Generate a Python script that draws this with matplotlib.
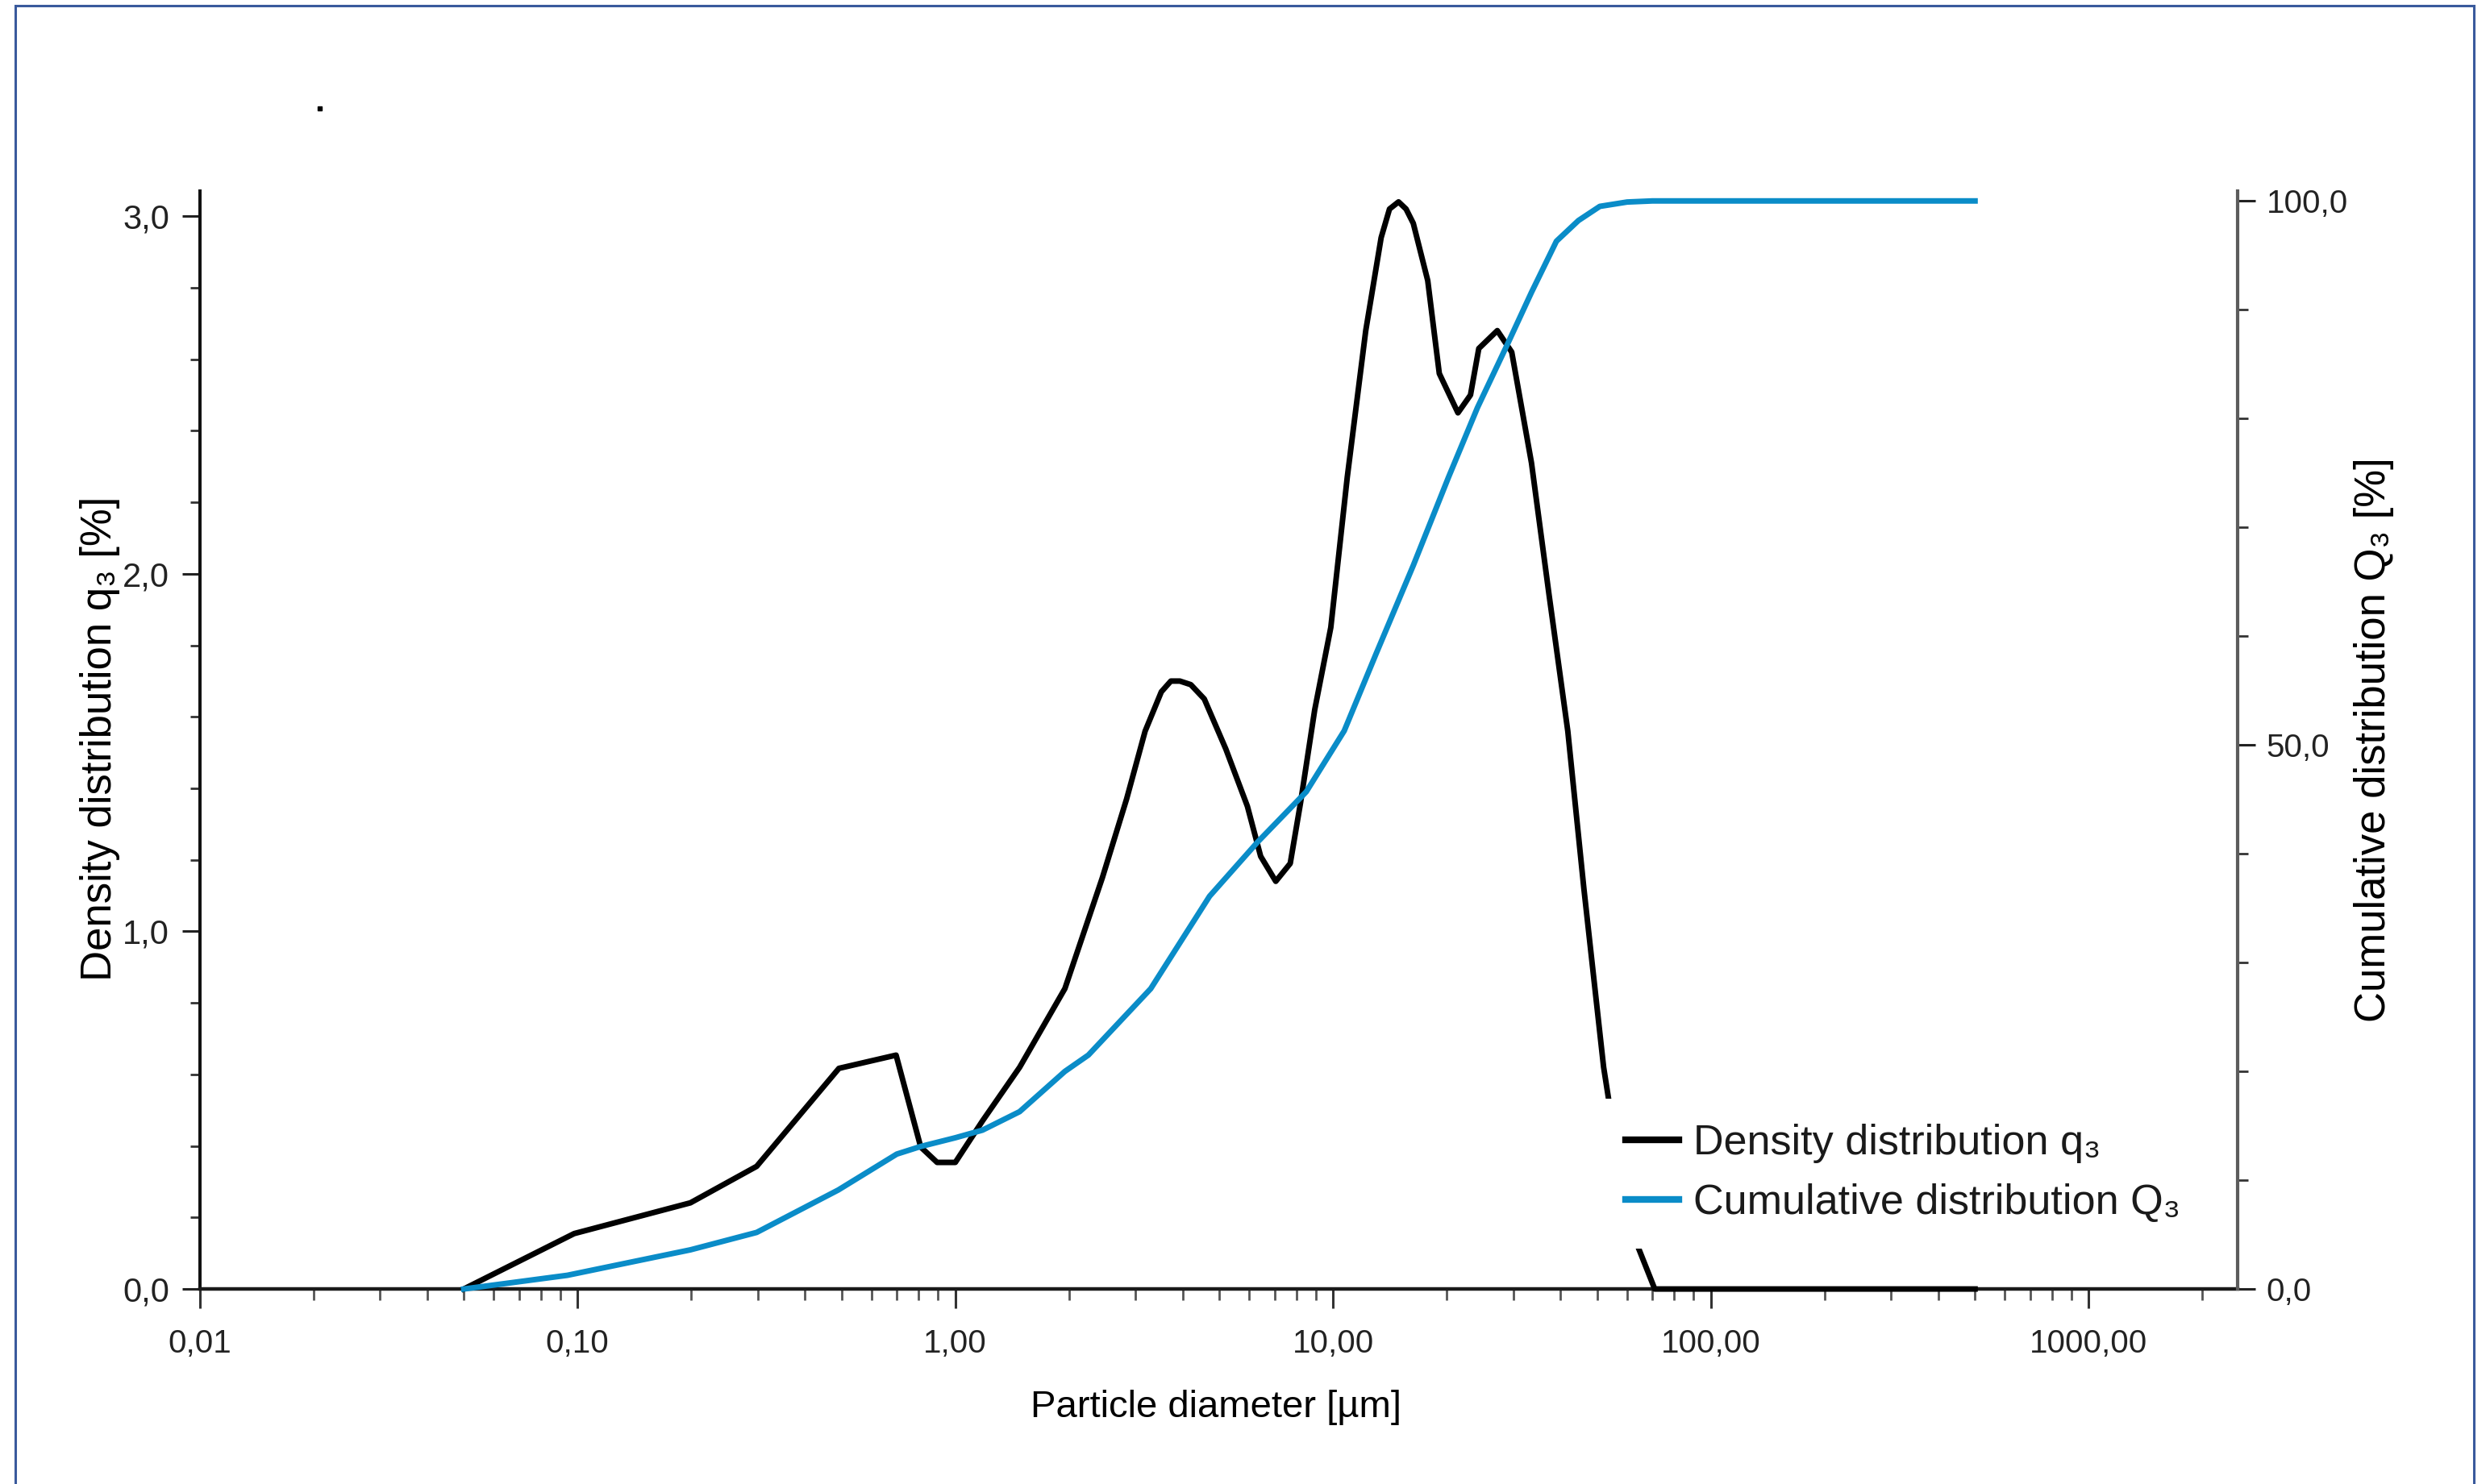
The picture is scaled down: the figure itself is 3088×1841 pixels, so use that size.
import matplotlib
matplotlib.use('Agg')
import matplotlib.pyplot as plt
from matplotlib.patches import Rectangle
from matplotlib.ticker import LogLocator, MultipleLocator, NullFormatter

# particle size [µm] and density distribution q3 [%]
density_x = [0.05, 0.098, 0.199, 0.298, 0.492, 0.697, 0.81, 0.895, 1.0, 1.18,
             1.48, 1.95, 2.45, 2.84, 3.18, 3.51, 3.72, 3.93, 4.2, 4.56, 5.2, 5.93,
             6.43, 7.05, 7.7, 8.2, 8.94, 9.86, 10.9, 12.2, 13.4, 14.1, 14.9,
             15.6, 16.3, 17.8, 19.1, 21.4, 23.1, 24.3, 27.2, 29.7, 33.5, 37.3,
             41.8, 46.1, 52.0, 58.0, 64.0, 71.0, 100, 200, 500]
density_q3 = [0, 0.155, 0.241, 0.343, 0.617, 0.654, 0.397, 0.354, 0.354, 0.47,
              0.62, 0.84, 1.15, 1.37, 1.56, 1.67, 1.70, 1.70, 1.69, 1.65, 1.51, 1.35,
              1.21, 1.14, 1.19, 1.36, 1.62, 1.85, 2.27, 2.68, 2.94, 3.02, 3.04,
              3.02, 2.98, 2.82, 2.56, 2.45, 2.50, 2.63, 2.68, 2.62, 2.31, 1.94,
              1.56, 1.12, 0.62, 0.30, 0.12, 0, 0, 0, 0]

# particle size [µm] and cumulative distribution Q3 [%]
cumulative_x = [0.05, 0.094, 0.199, 0.298, 0.49, 0.70, 0.81, 1.0, 1.18, 1.48,
                1.95, 2.25, 3.29, 4.71, 6.32, 8.49, 10.7, 13.0, 16.3, 20.2,
                24.1, 29.0, 33.5, 39.0, 44.6, 50.8, 60, 70, 500]
cumulative_Q3 = [0, 1.26, 3.6, 5.2, 9.1, 12.4, 13.1, 13.9, 14.6, 16.3,
                 20.0, 21.5, 27.6, 36.1, 41.1, 45.7, 51.3, 58.4, 66.5, 74.6,
                 81.0, 86.9, 91.6, 96.3, 98.2, 99.5, 99.9, 100, 100]

x_ticks = [0.01, 0.1, 1, 10, 100, 1000]
x_tick_labels = ['0,01', '0,10', '1,00', '10,00', '100,00', '1000,00']
q3_ticks = [0, 1, 2, 3]
q3_tick_labels = ['0,0', '1,0', '2,0', '3,0']
Q3_ticks = [0, 50, 100]
Q3_tick_labels = ['0,0', '50,0', '100,0']

plt.rcParams['font.family'] = ['Liberation Sans', 'DejaVu Sans']
plt.rcParams['text.color'] = '#1a1a1a'

fig = plt.figure(figsize=(30.88, 18.41), dpi=100)
ax = fig.add_axes([0.0802, 0.1314, 0.8185, 0.7398])
ax2 = ax.twinx()

# curves
l1, = ax.plot(density_x, density_q3, color='black', lw=5, clip_on=False, zorder=3,
              solid_joinstyle='round')
l2, = ax2.plot(cumulative_x, cumulative_Q3, color='#0a8cc8', lw=5, clip_on=False, zorder=3,
               solid_joinstyle='round')

ax.set_xscale('log')
ax.set_xlim(0.01, 2480)
ax.set_ylim(0, 3.07)
ax2.set_ylim(0, 100.9)

# x axis
ax.set_xticks(x_ticks, x_tick_labels)
ax.xaxis.set_minor_locator(LogLocator(base=10, subs=[2, 3, 4, 5, 6, 7, 8, 9], numticks=100))
ax.xaxis.set_minor_formatter(NullFormatter())
ax.tick_params(axis='x', which='major', direction='out', length=17, width=2.2,
               color='#333333', pad=18, labelsize=29, labelcolor='#222222')
ax.tick_params(axis='x', which='minor', direction='out', length=10, width=2.0, color='#555555')

# left y axis
ax.set_yticks(q3_ticks, q3_tick_labels)
ax.yaxis.set_minor_locator(MultipleLocator(0.2))
ax.tick_params(axis='y', which='major', direction='out', length=16, width=2.2,
               color='#222222', pad=11, labelsize=30, labelcolor='#222222')
ax.tick_params(axis='y', which='minor', direction='out', length=9, width=2.0, color='#333333')

# right y axis
ax2.set_yticks(Q3_ticks, Q3_tick_labels)
ax2.yaxis.set_minor_locator(MultipleLocator(10))
ax2.tick_params(axis='y', which='major', direction='out', length=16, width=2.2,
                color='#222222', pad=9.5, labelsize=29, labelcolor='#222222')
ax2.tick_params(axis='y', which='minor', direction='out', length=9.5, width=2.0, color='#333333')

for s in ['top', 'right']:
    ax.spines[s].set_visible(False)
for s in ['top', 'left', 'bottom']:
    ax2.spines[s].set_visible(False)
ax.spines['left'].set_linewidth(2.9)
ax.spines['left'].set_color('#111111')
ax.spines['bottom'].set_linewidth(3.2)
ax.spines['bottom'].set_color('#1a1a1a')
ax2.spines['right'].set_linewidth(3.0)
ax2.spines['right'].set_color('#5c5c5c')

# axis labels
ax.set_xlabel('Particle diameter [µm]', fontsize=34, va='center')
ax.xaxis.set_label_coords(0.4987, -0.108)
ax.set_ylabel('Density distribution q₃ [%]', fontsize=38, va='center')
ax.yaxis.set_label_coords(-0.0489, 0.5015)
ax2.set_ylabel('Cumulative distribution Q₃ [%]', fontsize=38, va='center')
ax2.yaxis.set_label_coords(1.0669, 0.5)

# legend (opaque, sits over the tail of the density curve)
leg = ax2.legend([l1, l2], ['Density distribution q₃', 'Cumulative distribution Q₃'],
                 loc='upper left', bbox_to_anchor=(0.6873, 0.1737), borderaxespad=0,
                 frameon=True, fancybox=False, framealpha=1, edgecolor='none',
                 facecolor='white', fontsize=37.5, handlelength=1.27, handletextpad=0.34,
                 labelspacing=0.49, borderpad=0.6)
for h in leg.get_lines():
    h.set_linewidth(6)

# outer frame and the stray dot
fig.patches.append(Rectangle((0.00615, -0.02), 0.98737, 1.0162, transform=fig.transFigure,
                             fill=False, edgecolor='#3a5a9c', linewidth=2.2))
fig.patches.append(Rectangle((394 / 3088, 1 - 137 / 1841), 5 / 3088, 5 / 1841,
                             transform=fig.transFigure, color='black'))

fig.savefig('out.png', dpi=100)
